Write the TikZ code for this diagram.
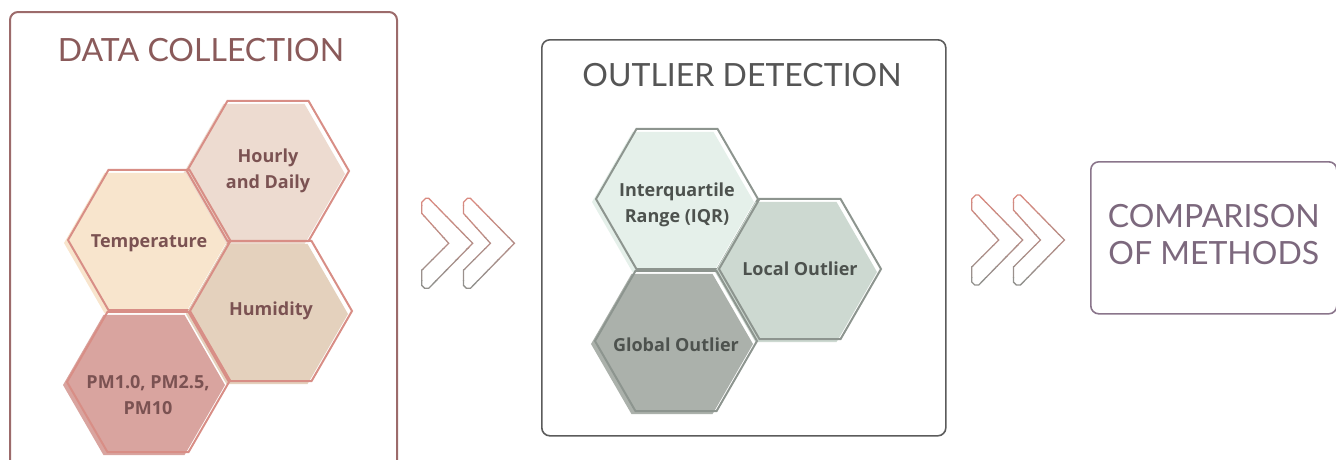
\documentclass[tikz,border=0pt]{standalone}
\usepackage{fontspec}
\setmainfont{Open Sans}
\newfontfamily\titlefont{Lato}
\usetikzlibrary{shapes.geometric,shadows}

\definecolor{dcframe}{HTML}{9C6B6B}
\definecolor{dctext}{HTML}{8A5A5A}
\definecolor{dcline}{HTML}{D88E86}
\definecolor{dclabel}{HTML}{7B5252}
\definecolor{hourlyfill}{HTML}{EDDBD0}
\definecolor{tempfill}{HTML}{F8E5CD}
\definecolor{humidfill}{HTML}{E4D1BD}
\definecolor{pmfill}{HTML}{D9A49F}
\definecolor{odframe}{HTML}{5B5B5B}
\definecolor{odtext}{HTML}{555555}
\definecolor{odline}{HTML}{8D958F}
\definecolor{odlabel}{HTML}{4D524E}
\definecolor{iqrfill}{HTML}{E5F0EA}
\definecolor{localfill}{HTML}{CDD9D1}
\definecolor{globalfill}{HTML}{ABB1AB}
\definecolor{cmframe}{HTML}{8A758B}
\definecolor{cmtext}{HTML}{7C687D}
\definecolor{chevtop}{HTML}{D98A80}
\definecolor{chevbot}{HTML}{8F918E}

\tikzset{
  frame/.style={draw, rounded corners=8pt, line width=1.6pt, inner sep=0pt, anchor=north west},
  boxtitle/.style={font=\titlefont\fontsize{32}{37}\selectfont, align=center},
  hex/.style={regular polygon, regular polygon sides=6, minimum size=162pt, inner sep=0pt, line width=2pt},
  hexfill/.style={general shadow={fill=#1, shadow xshift=-4pt, shadow yshift=-3pt}},
  hexlabel/.style={align=center, inner sep=0pt, font=\bfseries\fontsize{18}{26}\selectfont},
  dchex/.style={hex, draw=dcline, hexfill=#1},
  odhex/.style={hex, draw=odline, hexfill=#1},
  chevron/.pic={
    \foreach \i in {0,...,8}{
      \pgfmathtruncatemacro\mixval{100-\i*12}
      \begin{scope}
        \clip (-3,{-3+\i*10.67}) rectangle (56,{-3+(\i+1)*10.67});
        \draw[line width=1.3pt, draw=chevtop!\mixval!chevbot] (0,15) -- (0,4) -- (4,0) -- (7,0) -- (51,45)
          -- (7,90) -- (3,90) -- (0,87) -- (0,72) -- (27,45) -- cycle;
      \end{scope}}
  }
}

\begin{document}
\begin{tikzpicture}[x=1pt,y=-1pt]
\useasboundingbox (0,0) rectangle (1336,459);
% data collection
\node[frame, draw=dcframe, line width=2pt, minimum width=387pt, minimum height=462pt] (dcbox) at (9,11) {};
\node[boxtitle, text=dctext] (dctitle) at (201,50) {DATA COLLECTION};
\node[dchex=hourlyfill] (hourly) at (268,171) {};
\node[hexlabel, text=dclabel] (hourlytext) at (hourly.center) {Hourly\\and Daily};
\node[dchex=tempfill] (temp) at (149,240) {};
\node[hexlabel, text=dclabel] (temptext) at (149,243) {Temperature};
\node[dchex=humidfill] (humid) at (271,311) {};
\node[hexlabel, text=dclabel] (humidtext) at (humid.center) {Humidity};
\node[dchex=pmfill] (pm) at (148,382) {};
\node[hexlabel, text=dclabel] (pmtext) at (148,395) {PM1.0, PM2.5,\\PM10};
% outlier detection
\node[frame, draw=odframe, minimum width=404pt, minimum height=396pt] (odbox) at (541,39) {};
\node[boxtitle, text=odtext] (odtitle) at (742,75) {OUTLIER DETECTION};
\node[odhex=iqrfill] (iqr) at (677,199) {};
\node[hexlabel, text=odlabel] (iqrtext) at (677,205) {Interquartile\\Range (IQR)};
\node[odhex=localfill] (local) at (800,269) {};
\node[hexlabel, text=odlabel] (localtext) at (local.center) {Local Outlier};
\node[odhex=globalfill] (global) at (676,341) {};
\node[hexlabel, text=odlabel] (globaltext) at (676,345) {Global Outlier};
% comparison
\node[frame, draw=cmframe, minimum width=246pt, minimum height=152pt] (cmbox) at (1090,161) {};
\node[boxtitle, text=cmtext] (cmtitle) at ([yshift=3pt]cmbox.center) {COMPARISON\\OF METHODS};
% chevrons
\pic at (421.7,198.3) {chevron};
\pic at (463.4,198.3) {chevron};
\pic at (971.7,195) {chevron};
\pic at (1013.4,195) {chevron};
\end{tikzpicture}
\end{document}
